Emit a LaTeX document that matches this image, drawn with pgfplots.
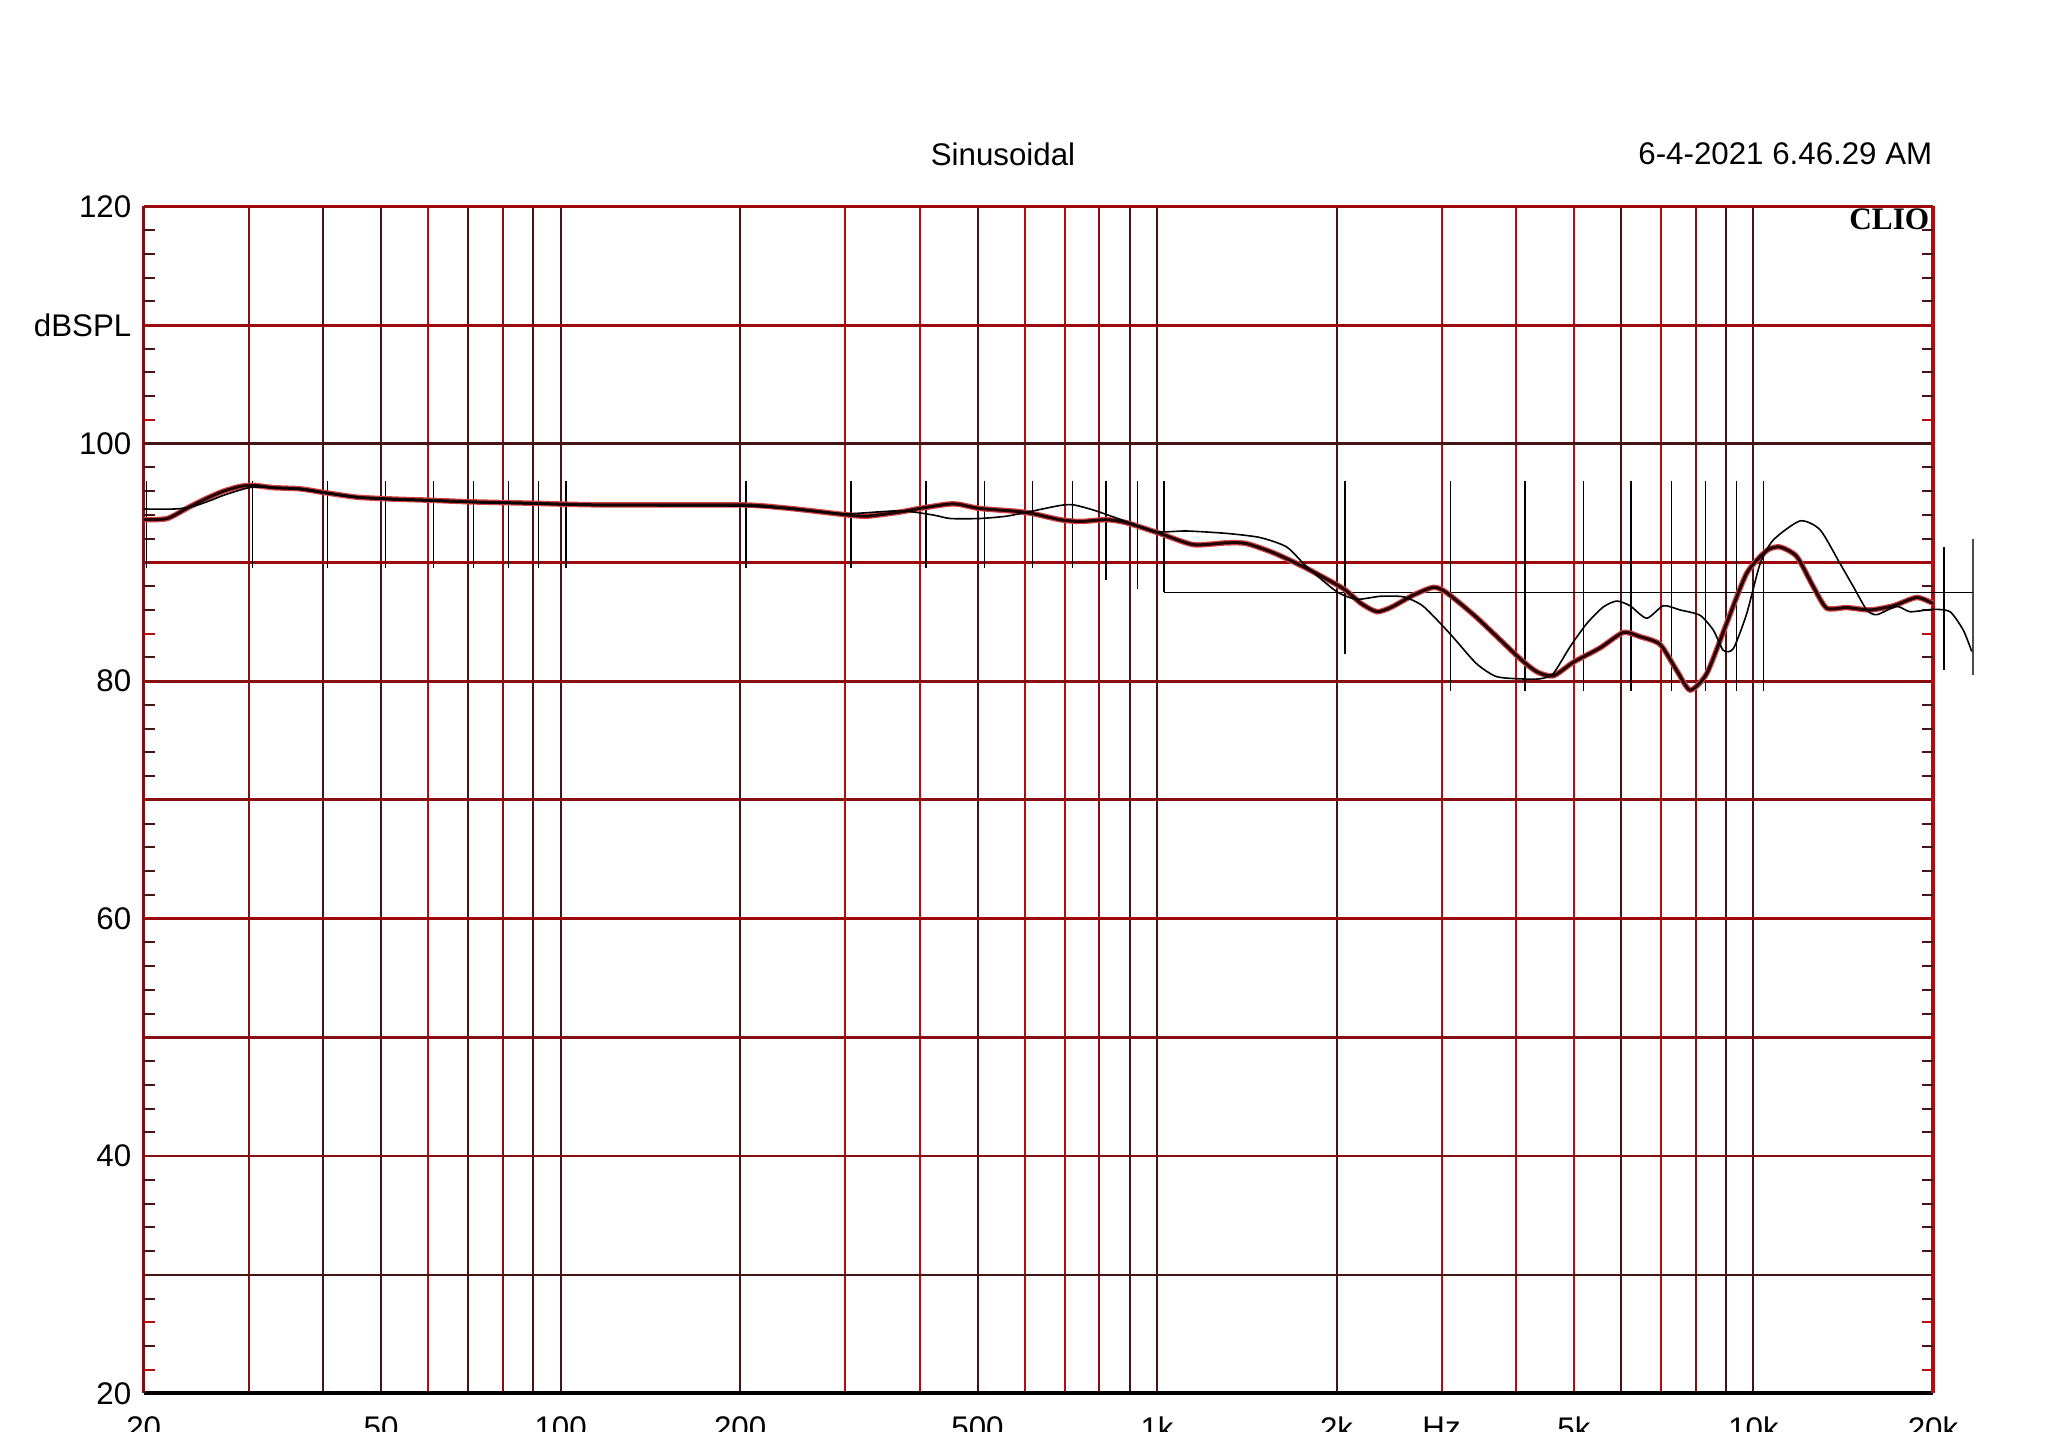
\documentclass[border=0pt]{standalone}
\usepackage{fontspec}
\setmainfont{Liberation Sans}
\newfontfamily\cliofont{Liberation Serif}
\usepackage{pgfplots}
\usepackage{pgfplotstable}
\pgfplotsset{compat=1.18}

\definecolor{gridred}{RGB}{185,10,15}
\definecolor{gridmid}{RGB}{135,15,20}
\definecolor{griddark}{RGB}{70,20,20}
\definecolor{traceblk}{RGB}{35,0,0}
\definecolor{tracered}{RGB}{210,70,70}

% thick trace (frequency Hz, dB SPL)
\pgfplotstableread{
f dB
20 93.6
21.9 93.7
23.9 94.7
25.5 95.4
27.2 96.0
29.0 96.4
30.5 96.5
33.0 96.3
36.6 96.2
40 95.9
45.5 95.5
51.7 95.35
59.6 95.25
71.4 95.1
87.6 95.0
116.6 94.85
200 94.85
237 94.6
269 94.3
303 94.0
327 93.9
371 94.25
400 94.55
444 94.9
465 94.9
504 94.55
582 94.3
621 94.1
688 93.6
744 93.45
823 93.6
888 93.35
1010 92.45
1150 91.5
1306 91.65
1410 91.6
1570 90.8
1782 89.5
2052 87.8
2198 86.55
2338 85.85
2475 86.25
2690 87.25
2904 87.9
3050 87.5
3428 85.4
4040 82.0
4330 80.8
4618 80.45
4990 81.6
5530 82.8
6050 84.1
6455 83.75
6972 83.1
7436 80.9
7830 79.25
8350 80.65
9020 84.9
9744 89.1
10526 91.0
11080 91.3
11818 90.5
12600 87.95
13268 86.15
14332 86.2
15688 86.0
17160 86.35
18778 87.05
20000 86.55
}\thicktrace

% thin trace
\pgfplotstableread{
f dB
20 94.5
22.5 94.5
23.9 94.65
25.5 95.1
27.2 95.65
29.0 96.1
30.5 96.35
33.0 96.3
36.6 96.15
40 95.85
45.5 95.5
51.7 95.3
59.6 95.2
71.4 95.05
87.6 94.95
116.6 94.8
200 94.75
237 94.55
269 94.3
303 94.1
371 94.35
421 94.0
450 93.7
504 93.7
560 93.9
614 94.3
688 94.8
724 94.85
784 94.4
888 93.45
998 92.6
1120 92.65
1306 92.45
1488 92.1
1650 91.3
1782 89.65
2000 87.55
2160 86.9
2368 87.15
2590 87.1
2796 86.3
3098 84.0
3428 81.5
3700 80.4
4040 80.2
4390 80.2
4618 80.65
4926 82.9
5254 84.85
5600 86.25
5898 86.75
6210 86.35
6622 85.3
7062 86.35
7530 86.0
8136 85.55
8564 84.3
8900 82.6
9254 82.75
9744 85.7
10260 89.9
10800 91.9
11972 93.5
12932 92.75
13970 89.9
14710 87.95
15486 86.0
16094 85.6
17390 86.3
18310 85.85
20028 86.05
21360 85.85
22480 84.3
23228 82.5
}\thintrace

\begin{document}
\begin{tikzpicture}[font=\fontsize{8.9}{10.5}\selectfont]
\begin{axis}[
  at={(1.437cm,0.385cm)}, anchor=south west,
  scale only axis, width=17.893cm, height=11.872cm,
  xmode=log, xmin=20, xmax=20000, ymin=20, ymax=120,
  axis line style={draw=none},
  clip=false,
  xtick={20,50,100,200,500,1000,2000,3000,5000,10000,20000},
  xticklabels={20,50,100,200,500,1k,2k,Hz,5k,10k,20k},
  ytick={20,40,60,80,100,110,120},
  yticklabels={20,40,60,80,100,dBSPL,120},
  major tick length=0pt, minor tick num=0,
  xticklabel style={yshift=-0.11cm},
  tick label style={font=\fontsize{8.9}{10.5}\selectfont},
]
% vertical grid
\pgfplotsinvokeforeach{40,50,70,90,100,200,500,900,1000,2000,6000,9000,10000}{
  \draw[griddark, line width=0.02cm] (axis cs:#1,20) -- (axis cs:#1,120);}
\pgfplotsinvokeforeach{30,80,800,8000}{
  \draw[gridmid, line width=0.02cm] (axis cs:#1,20) -- (axis cs:#1,120);}
\pgfplotsinvokeforeach{60,300,400,600,700,3000,4000,5000,7000}{
  \draw[gridred, line width=0.022cm] (axis cs:#1,20) -- (axis cs:#1,120);}
% horizontal grid
\pgfplotsinvokeforeach{100,30}{
  \draw[griddark, line width=0.025cm] (axis cs:20,#1) -- (axis cs:20000,#1);}
\pgfplotsinvokeforeach{80,70,50,40}{
  \draw[gridmid, line width=0.028cm] (axis cs:20,#1) -- (axis cs:20000,#1);}
\pgfplotsinvokeforeach{110,90,60}{
  \draw[gridred!85!black, line width=0.03cm] (axis cs:20,#1) -- (axis cs:20000,#1);}
% frame
\draw[gridred!85!black, line width=0.035cm] (axis cs:20,120) -- (axis cs:20000,120);
\draw[black, line width=0.04cm] (axis cs:20,20) -- (axis cs:20000,20);
\draw[gridmid, line width=0.03cm] (axis cs:20,20) -- (axis cs:20,120);
\draw[gridred, line width=0.035cm] (axis cs:20000,20) -- (axis cs:20000,120);
% minor dB ticks, pointing inwards on both sides
\pgfplotsinvokeforeach{24,28,32,34,36,38,42,44,46,48,52,54,56,58,62,64,66,68,72,74,76,78,82,86,88,92,94,96,98,104,106,108,112,114,116,118}{
  \draw[griddark, line width=0.02cm] (axis cs:20,#1) -- (axis cs:20.87,#1);
  \draw[griddark, line width=0.02cm] (axis cs:19168,#1) -- (axis cs:20000,#1);}
\pgfplotsinvokeforeach{22,26,84,102}{
  \draw[gridred, line width=0.02cm] (axis cs:20,#1) -- (axis cs:20.87,#1);
  \draw[gridred, line width=0.02cm] (axis cs:19168,#1) -- (axis cs:20000,#1);}
% shifted overlay grid fragments
\pgfplotsinvokeforeach{20.23,30.46,40.64,50.9,61.2,71.4,81.7,91.7,102.1,204.6,306.9,409.9,513.4,618,722}{
  \draw[black, line width=0.012cm] (axis cs:#1,96.9) -- (axis cs:#1,89.5);}
\draw[black, line width=0.012cm] (axis cs:821,96.9) -- (axis cs:821,88.5);
\draw[black, line width=0.012cm] (axis cs:927,96.9) -- (axis cs:927,87.8);
\draw[black, line width=0.012cm] (axis cs:1027,96.9) -- (axis cs:1027,87.5);
\draw[black, line width=0.012cm] (axis cs:2066,96.9) -- (axis cs:2066,82.3);
\pgfplotsinvokeforeach{3108,4140,5184,6232,7294,8312,9376,10390}{
  \draw[black, line width=0.012cm] (axis cs:#1,96.9) -- (axis cs:#1,79.2);}
\draw[black, line width=0.012cm] (axis cs:20868,91.3) -- (axis cs:20868,80.9);
\draw[black!70, line width=0.02cm] (axis cs:23340,92.0) -- (axis cs:23340,80.5);
\draw[black, line width=0.012cm] (axis cs:1027,87.45) -- (axis cs:23340,87.45);
% traces
\addplot[tracered, line width=0.055cm, smooth, tension=0.4] table[x=f, y=dB] {\thicktrace};
\addplot[traceblk, line width=0.03cm, smooth, tension=0.4] table[x=f, y=dB] {\thicktrace};
\addplot[black, line width=0.016cm, smooth, tension=0.4] table[x=f, y=dB] {\thintrace};
\end{axis}
\node[anchor=center] at (10.03cm,12.78cm) {Sinusoidal};
\node[anchor=east, inner sep=0pt] at (19.33cm,12.78cm) {6-4-2021 6.46.29 AM};
\node[anchor=east, inner sep=0pt, font=\cliofont\bfseries\fontsize{8.9}{10.5}\selectfont] at (19.30cm,12.125cm) {CLIO};
\pgfresetboundingbox
\useasboundingbox (0,0) rectangle (20.48cm,14.32cm);
\end{tikzpicture}
\end{document}
